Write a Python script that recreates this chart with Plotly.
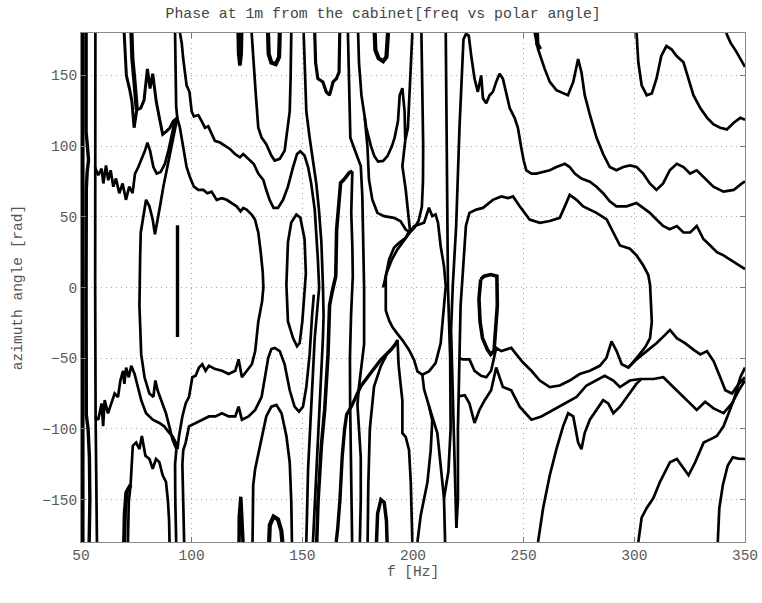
import plotly.graph_objects as go

# ---- contour curves: (frequency Hz, azimuth deg) ----
LB1 = [(50.8, 180), (50.8, -180)]
LB2 = [(52.3, 180), (52.3, 110), (52.9, 100), (53.4, 90), (52.8, 82), (52.4, 70), (52.3, 0),
       (52.4, -90), (53.2, -100), (53.8, -120), (54.0, -150), (53.7, -180)]
LB3 = [(56.5, 180), (56.4, 120), (56.3, 85), (56.4, 0), (56.6, -91), (56.9, -140), (57.2, -180)]

J = [(56.3, 85.2), (57.8, 79.4), (59.3, 84), (60.1, 73.6), (61.3, 86.3), (62.3, 75.9), (63.4, 82.9),
     (64.6, 71.3), (65.8, 77.1), (67.3, 66.7), (68.8, 73.6), (70.3, 62), (71.8, 71.3), (73.3, 66.7),
     (74.4, 80.6), (75.9, 85.2), (77.4, 91), (78.9, 96.8), (80.0, 102.5), (81.2, 96.8), (82.7, 85.2),
     (84.2, 80.6), (86.0, 81.7), (87.9, 87.5), (89.5, 96.8), (91.0, 108.3), (92.5, 118.7), (93.5, 119.9),
     (94.7, 113), (96.2, 99.1), (97.7, 85.2), (99.2, 78.2), (101.0, 71.3), (103.0, 69), (105.3, 69),
     (107.1, 66.7), (109.0, 67.8), (111.3, 62), (113.6, 63.2), (115.8, 62), (118.0, 59.7), (120.3, 57.4),
     (122.1, 53.9), (123.3, 56.3), (124.8, 55.1), (127.1, 51.6), (128.6, 48.1), (130.1, 38.9),
     (131.2, 25), (132.1, 11.1), (132.4, 0), (131.8, -10), (130.1, -24.2), (128.7, -45), (127.2, -54.3),
     (124.9, -58.9), (122.7, -63.5), (121.2, -50.8), (119.7, -58.9), (116.7, -61.2), (113.7, -58.9),
     (110.7, -57.7), (107.8, -55.4), (106.3, -58.9), (104.8, -54.3), (103.3, -56.6), (101.8, -62.4),
     (100.3, -63.5), (98.8, -77.4), (97.3, -82), (95.8, -91.2), (94.3, -105), (93.6, -114.3),
     (92.8, -109.7), (91.3, -105), (89.9, -102.8), (87.6, -98.2), (85.4, -95.8), (82.4, -93.5),
     (79.4, -89), (77.2, -79.7), (75.7, -70.4), (74.2, -61.2), (72.7, -55.4), (71.6, -63.5),
     (70.4, -56.6), (69.6, -68.1), (69.0, -58.9), (67.8, -65.8), (66.7, -77.4), (65.2, -75),
     (63.7, -82), (62.2, -89), (60.7, -79.7), (60.0, -98), (59.3, -82), (57.8, -93.5), (56.3, -91.2)]

ELL_L = [(93.5, 119.9), (92.9, 115.3), (91.7, 106), (90.2, 94.4), (88.7, 82.9), (87.2, 71.3),
         (85.7, 57.4), (84.5, 48.1), (83.4, 37.7), (82.4, 48.1), (80.9, 57.4), (79.4, 62), (77.9, 48.1),
         (77.0, 38.9), (76.7, 20.4), (76.5, 0), (76.4, -12.7), (76.8, -30), (77.2, -47.3), (78.7, -63.5),
         (80.9, -75), (82.7, -77.4), (83.6, -65.8), (84.6, -72.7), (86.1, -79.7), (88.4, -89),
         (89.9, -98.2), (91.3, -107.4), (93.1, -114.3)]
SEG = [(93.6, 44), (93.6, 20), (93.7, 0), (93.6, -20), (93.6, -35)]

Z1 = [(69.5, 180), (70.0, 165), (70.5, 150), (72.0, 140), (73.0, 131.5), (74.0, 113), (75.2, 125.7),
      (77.0, 126.9), (78.5, 132.6), (80.0, 154.6), (81.2, 140.7), (82.4, 151.2), (84.0, 131.5),
      (85.4, 120), (86.9, 108.3), (88.7, 110.6), (90.2, 113), (91.7, 117.6), (93.5, 119.9)]
Z2 = [(72.8, 180), (73.2, 162), (74.2, 145), (75.2, 125.7)]
TC = [(92.5, 180), (92.7, 150), (93.0, 128), (93.5, 119.9)]
TA = [(93.1, -114.3), (92.5, -125), (92.6, -150), (93.0, -180)]

X = [(94.7, 180), (95.5, 173), (96.2, 161.6), (97.0, 150), (97.7, 143), (99.0, 138.4), (100.0, 124.5),
     (101.0, 121), (103.0, 122), (104.5, 117.6), (106.0, 113), (107.5, 114), (109.0, 108.3),
     (110.5, 103.7), (112.8, 102.5), (115.0, 100.2), (117.3, 98), (119.6, 94.4), (121.8, 92.1),
     (123.3, 94.4), (125.6, 91), (128.0, 87.5), (130.1, 80.6), (132.4, 76), (133.5, 70), (135.2, 62),
     (137.0, 56.3), (139.0, 56.3), (141.3, 62), (143.5, 71.3), (145.8, 85.2), (147.6, 94.4),
     (149.1, 96.3), (151.0, 93.3), (152.6, 85.2), (154.0, 73.6), (155.6, 55.1), (156.3, 39),
     (157.0, 20.4), (157.6, 0), (156.6, -20), (155.6, -35.8), (154.1, -82), (152.6, -128.2), (151.8, -180)]
XM = [(96.6, -180), (96.2, -150), (95.8, -125), (96.2, -115), (97.3, -109.7), (98.8, -98.2),
      (101.8, -95.8), (104.8, -93.5), (107.8, -91.2), (110.7, -91.2), (113.7, -88.9), (116.7, -91.2),
      (119.7, -91.2), (121.2, -84.3), (122.7, -93.5), (125.7, -91.2), (128.7, -86.6), (131.6, -77.4),
      (133.1, -63.5), (134.6, -49.7), (136.0, -43.5), (137.5, -42.7), (139.8, -45), (142.0, -54.3),
      (144.3, -72.7), (146.5, -84.3), (148.5, -87.8), (150.3, -84.3), (151.8, -70.4), (153.3, -47.3),
      (154.4, -20), (155.2, -5)]

ZL = [(71.2, -180), (71.6, -151.3), (72.4, -139.7), (73.4, -112), (74.9, -109.7), (76.4, -114.3),
      (77.5, -105), (79.1, -119), (80.9, -121.2), (82.4, -128.2), (83.9, -121.2), (85.4, -123.5),
      (86.9, -132.8), (88.4, -137.4), (89.3, -151.3), (89.8, -165), (90.0, -180)]
ZL2 = [(69.5, -180), (69.8, -160), (70.5, -145), (72.4, -139.7)]

G_UP = [(127.1, 180), (127.9, 159), (129.0, 136), (130.1, 113), (131.6, 106), (133.7, 101.4),
        (136.0, 93.3), (137.5, 89.8), (139.8, 91), (142.0, 96.8), (143.5, 113), (144.3, 124.5),
        (144.7, 147.7), (145.0, 170.8), (145.0, 180)]
G_LO = [(127.5, -180), (127.6, -150), (127.8, -139.7), (128.7, -128.2), (130.9, -112), (133.7, -91.2),
        (136.0, -84.3), (138.3, -83.1), (140.6, -88.9), (142.8, -105), (144.3, -123.6), (145.0, -151.3),
        (145.3, -180)]

N1 = [(121.0, 180), (121.2, 165), (121.8, 157), (122.4, 165), (122.6, 180)]
N2 = [(121.4, -180), (121.5, -162), (122.2, -148), (122.8, -162), (123.2, -180)]
B1 = [(134.5, 180), (134.8, 165), (136.0, 159), (138.0, 158), (139.5, 163), (139.8, 180)]
B2 = [(135.0, -180), (135.3, -168), (137.0, -162), (139.0, -164), (140.5, -172), (141.0, -180)]
B3 = [(182.7, 180), (183.0, 168), (184.5, 162), (186.5, 160), (188.0, 163), (188.7, 180)]
B4 = [(183.5, -180), (184.0, -160), (185.5, -150), (187.0, -152), (188.0, -165), (188.3, -180)]

SMALL_ELL = [(142.8, 1.9), (143.5, 32), (145.0, 46), (147.3, 51.6), (149.1, 49.3), (151.0, 34.3),
             (151.6, 10), (150.6, -15), (150.0, -24), (148.8, -39.3), (147.6, -41.6), (145.8, -35.8),
             (143.5, -24), (142.8, 1.9)]

V2 = [(150.6, 180), (151.0, 159.3), (151.8, 124.5), (153.3, 106), (154.8, 89.8), (156.3, 73.6),
      (157.5, 55.1), (158.6, 32), (159.3, 1.9), (159.6, -20), (159.3, -35.8), (157.8, -82),
      (156.3, -128.2), (154.8, -180)]
T1 = [(155.6, 180), (156.0, 159), (157.0, 147.7), (159.3, 145.4), (160.8, 138.4), (162.3, 136),
      (163.9, 145.4), (165.4, 147.7), (166.6, 152.3), (166.9, 168.5), (166.9, 180)]

M1 = [(170.6, 180), (171.1, 136), (171.7, 106), (173.3, 99), (176.4, 86), (177.1, 65), (177.6, 29),
      (177.9, 0), (177.9, -40), (177.1, -50), (176.4, -60), (175.6, -70), (174.9, -83), (175.5, -100),
      (176.4, -120), (176.4, -150), (176.0, -180)]
M2A = [(156.5, -180), (157.1, -151.3), (158.6, -112), (160.1, -86.6), (161.6, -47.3), (162.3, -12.7),
       (163.5, -3), (165.1, 8), (165.5, 41), (166.6, 64.6), (167.3, 74), (168.8, 76.4), (171.1, 81.1),
       (172.6, 82.3)]
M2B = [(172.6, 82.3), (172.1, 52.8), (172.6, 29.2), (172.8, 8), (172.0, -20), (171.5, -50),
       (171.6, -83), (172.0, -120), (172.3, -150), (172.5, -180)]

UMA = [(175.2, 180), (175.6, 159), (176.7, 136), (178.9, 113), (181.0, 100), (182.5, 93), (184.2, 89),
       (186.5, 89.5), (188.5, 93), (190.5, 100), (191.7, 106), (193.2, 117.6), (194.0, 136),
       (195.2, 141), (196.2, 124.5), (196.5, 104), (197.7, 113), (198.5, 136), (199.2, 159), (199.7, 180)]
UMB = [(196.5, 104), (195.2, 85.8), (196.7, 69.3), (197.7, 52.8), (198.6, 41), (196.7, 35.1),
       (193.7, 31.6), (191.4, 28.1), (189.2, 19.8), (187.7, 8), (187.7, -16.3), (189.2, -23.3),
       (190.7, -27.9), (192.9, -32.6), (195.2, -37.2), (198.2, -44.2), (200.5, -51.2), (202.0, -59.3),
       (204.2, -61.6), (207.2, -59.3), (210.2, -53.5), (212.5, -39.5), (214.0, -16.3), (214.8, 1),
       (214.0, 15.1), (212.5, 29.2), (211.3, 45.8), (210.2, 51.7), (208.7, 50.5), (207.2, 56.4),
       (205.0, 45.8), (202.7, 44.6), (200.5, 43.4), (198.6, 39)]
UMC = [(178.2, 120), (179.4, 100), (180.1, 76.4), (181.6, 62.3), (183.9, 52.8), (186.9, 50.5),
       (191.4, 49.3), (194.4, 46.9), (196.7, 41), (198.6, 39)]
M4 = [(203.8, 180), (204.3, 136), (204.6, 100), (204.5, 75), (204.0, 57), (202.5, 47), (200.5, 42),
      (198.6, 39), (196.0, 33), (193.0, 27), (190.5, 20), (188.0, 10), (186.5, 0)]
M5 = [(214.8, 180), (215.1, 113), (215.4, 43.5), (215.8, 0), (216.8, -50), (217.0, -100),
      (216.0, -130), (214.0, -149), (214.5, -180)]
K1 = [(193.0, -37), (193.5, -55), (194.5, -70), (195.2, -80), (195.2, -103), (196.7, -105.6),
      (198.2, -114.9), (199.0, -138), (199.7, -180)]
K2 = [(204.2, -61.6), (205.0, -72), (207.2, -83.7), (208.7, -94), (208.0, -115), (206.5, -138),
      (203.5, -161), (202.0, -180)]
K3 = [(207.2, -83.7), (211.0, -103), (212.5, -126), (214.0, -149)]
D1 = [(165.3, -180), (166.0, -170), (167.0, -150), (168.0, -120), (169.1, -100), (170.0, -90),
      (172.3, -83.7), (176.4, -69.8), (180.9, -60.5), (185.4, -51.2), (189.9, -44.2), (192.9, -38.4)]
D2 = [(179.5, -180), (179.8, -140), (180.5, -100), (182.4, -70), (185.4, -55.8), (188.4, -46.5),
      (191.4, -41.9), (193.0, -37)]

S1 = [(219.6, -170), (218.8, -128), (218.0, -82), (217.2, -30), (218.0, 2), (219.5, 43.5), (221.0, 113),
      (222.2, 159), (222.8, 175.5), (224.0, 179.5), (225.2, 178), (226.3, 164), (227.8, 147.7),
      (229.3, 138.4), (230.8, 150), (231.6, 133.8), (233.1, 130.3), (234.6, 136), (236.1, 138.4),
      (237.6, 145.4), (239.1, 151.2), (240.6, 147.7), (242.1, 138.4), (243.7, 126.9), (245.9, 120),
      (247.4, 113), (248.9, 99), (250.0, 89.8), (251.2, 82.9), (253.5, 80.6), (255.7, 80.6),
      (258.8, 81.7), (261.8, 82.9), (264.8, 85.2), (268.6, 87.5), (270.8, 85.2), (273.1, 80.6),
      (276.1, 77.1), (279.9, 74.8), (282.9, 71.3), (285.9, 66.7), (288.9, 60.9), (291.9, 57.4),
      (296.5, 57.4), (301.0, 59.7), (304.0, 56.3), (307.0, 52.8), (310.0, 48.1), (313.0, 43.5),
      (316.0, 41.2), (319.2, 43.5), (322.2, 38.9), (325.2, 38.9), (328.2, 43.5), (331.2, 34.3),
      (334.3, 29.7), (337.3, 25), (340.3, 22.7), (344.9, 18.1), (350.0, 13)]
LC = [(219.6, -170), (220.3, -150), (220.3, -100), (220.8, -50), (221.5, -12.7), (222.5, 10.4),
      (223.9, 43.5), (225.5, 52.8), (228.6, 55.1), (231.6, 56.3), (236.1, 62), (239.9, 64.4),
      (242.9, 63.2), (245.2, 64.4), (248.2, 57.4), (252.7, 48.1), (257.3, 45.8), (261.8, 47),
      (266.3, 49.3), (268.6, 57.4), (270.8, 65.5), (273.9, 62), (276.9, 57.4), (282.9, 52.8),
      (287.5, 48.1), (290.5, 38.9), (293.5, 29.7), (298.0, 27.4), (301.0, 22.7), (304.0, 15.8),
      (306.3, 8.8), (307.1, 1.9), (307.6, -10), (307.9, -24.2), (307.1, -35.8), (305.0, -42),
      (302.0, -48), (299.0, -53), (297.3, -56.6)]
UL9 = [(220.8, -50), (222.5, -50.8), (225.5, -50.8), (227.8, -58.9), (230.8, -62.4), (233.1, -63.5),
       (235.3, -58.9), (237.6, -42.7), (239.9, -45), (242.1, -43.9), (244.4, -42.7), (246.7, -47.3),
       (249.7, -53.1), (253.5, -58.9), (257.3, -65.8), (261.8, -70.4), (266.3, -69.3), (270.8, -65.8),
       (275.3, -61.2), (279.9, -58.9), (284.4, -55.4), (287.4, -49.7), (289.7, -38.1), (292.0, -45),
       (294.3, -54.3), (297.3, -56.6), (301.0, -50.8), (305.6, -45), (310.1, -39.3), (313.9, -33.5),
       (316.1, -30), (319.2, -35.8), (322.9, -39.3), (326.7, -43.9), (329.8, -47.3), (332.8, -45),
       (335.8, -52), (338.8, -63.5), (341.1, -72.7), (344.1, -75), (347.2, -68.1), (350.0, -63.5)]
LL9 = [(220.5, -77), (223.4, -76.2), (225.5, -82), (227.8, -95.8), (230.0, -86.6), (232.4, -79.7),
       (235.3, -72.7), (237.6, -56.6), (240.6, -70.4), (244.4, -72.7), (248.2, -84.3), (253.5, -93.5),
       (258.0, -91.2), (263.3, -86.6), (268.6, -82), (273.9, -77.4), (278.4, -69.3), (282.9, -65.8),
       (286.6, -62.4), (290.5, -65.8), (293.5, -70.4), (298.0, -65.8), (302.6, -64.7), (308.6, -64.7),
       (313.1, -63.5), (316.9, -69.3), (320.7, -75), (325.2, -82), (328.2, -86.6), (332.0, -80.8),
       (335.8, -85.5), (340.3, -88.9), (344.1, -82), (347.2, -72.7), (350.0, -65.8)]
R1 = [(256.5, -180), (258.8, -155.9), (261.8, -132.8), (264.8, -114.3), (267.8, -98.2), (270.1, -89),
      (272.4, -91.2), (274.6, -109.7), (276.1, -114.3), (277.6, -102.8), (279.9, -93.5), (282.9, -86.6),
      (285.9, -79.7), (288.2, -82), (290.5, -88.9), (293.5, -84.3), (296.5, -77.4), (299.0, -72),
      (301.0, -68), (303.0, -65)]
R2 = [(301.8, -180), (303.3, -162.8), (305.6, -155.9), (308.6, -148.9), (311.6, -137.4), (316.1, -123.6),
      (319.2, -121.3), (322.2, -128.2), (324.5, -132.8), (327.5, -123.6), (331.3, -109.7),
      (334.3, -107.4), (337.3, -105), (340.3, -98.2), (342.6, -88.9), (344.9, -79.7), (347.9, -63.5),
      (350.0, -56.6)]
R3 = [(337.7, -180), (338.4, -155.9), (340.0, -139.7), (342.2, -125.9), (344.5, -120.1), (347.0, -121),
      (350.0, -121.3)]
SMALL_LOOP = [(230.6, 5.8), (232.1, 8), (235.1, 9.2), (237.9, 8), (238.1, -12.7), (237.3, -31.2),
              (236.6, -45), (235.1, -47.3), (233.6, -43.9), (231.4, -35.8), (230.3, -24.2),
              (229.8, -8), (230.6, 5.8)]
LA = [(255.0, 180), (256.5, 168.5), (259.5, 154.6), (261.8, 145.4), (264.8, 139.6), (267.8, 137.3),
      (270.0, 136), (272.4, 145.4), (274.6, 161.6), (276.1, 152.3), (277.6, 136), (279.9, 122.2),
      (282.9, 106), (285.9, 94.4), (288.9, 85.2), (291.9, 82.9), (295.0, 85.2), (298.0, 86.3),
      (301.0, 85.2), (304.0, 80.6), (307.0, 73.6), (310.0, 69), (313.0, 73.6), (316.0, 82.9),
      (319.2, 87.5), (322.2, 85.2), (325.2, 80.6), (328.2, 82.9), (331.2, 78.2), (335.7, 71.3),
      (340.3, 67.8), (344.9, 69), (348.6, 73.6), (350.0, 75)]
LA2 = [(256.0, 180), (256.2, 172), (257.5, 168.5)]
TOPR = [(301.0, 180), (301.8, 159.3), (303.3, 143), (305.6, 136), (307.9, 137.3), (310.0, 147.7),
        (312.2, 163.9), (314.5, 170.8), (316.8, 168.5), (319.0, 163.9), (322.2, 159.3), (324.5, 147.7),
        (326.7, 136), (329.8, 126.9), (332.9, 120), (335.8, 115.3), (338.8, 113), (341.8, 111.8),
        (344.9, 116.5), (347.9, 120), (350.0, 118.7)]
CORNER = [(341.5, 180), (343.5, 173), (346.0, 167), (348.0, 162), (350.0, 156)]

X_TICKS = [50, 100, 150, 200, 250, 300, 350]
Y_TICKS = [-150, -100, -50, 0, 50, 100, 150]
TITLE = "Phase at 1m from the cabinet[freq vs polar angle]"
XLABEL = "f [Hz]"
YLABEL = "azimuth angle [rad]"

# ---- styling ----
NORMAL = 2.7
HEAVY = 4.2
curves = [
    (LB1, 3.6), (LB2, 3.4), (LB3, NORMAL), (J, NORMAL), (ELL_L, NORMAL), (SEG, 3.4), (Z1, 3.0),
    (Z2, HEAVY), (TC, NORMAL), (TA, NORMAL), (X, NORMAL), (XM, NORMAL), (ZL, NORMAL), (ZL2, HEAVY),
    (G_UP, NORMAL), (G_LO, NORMAL), (N1, 3.5), (N2, 3.5), (B1, HEAVY), (B2, HEAVY), (B3, HEAVY),
    (B4, 3.5), (SMALL_ELL, NORMAL), (V2, NORMAL), (T1, 3.2), (M1, NORMAL), (M2A, 3.6), (M2B, NORMAL),
    (UMA, NORMAL), (UMB, NORMAL), (UMC, NORMAL), (M4, NORMAL), (M5, NORMAL), (K1, NORMAL),
    (K2, NORMAL), (K3, NORMAL), (D1, 3.4), (D2, NORMAL), (S1, NORMAL), (LC, NORMAL), (UL9, NORMAL),
    (LL9, NORMAL), (R1, NORMAL), (R2, NORMAL), (R3, NORMAL), (SMALL_LOOP, 3.6), (LA, NORMAL),
    (LA2, HEAVY), (TOPR, NORMAL), (CORNER, NORMAL),
]

fig = go.Figure()
for pts, w in curves:
    fig.add_trace(go.Scatter(
        x=[p[0] for p in pts], y=[p[1] for p in pts], mode="lines",
        line=dict(color="black", width=w, shape="linear"),
        hoverinfo="skip", showlegend=False))

FONT = "Liberation Mono, Courier New, monospace"
axis_common = dict(
    ticks="inside", ticklen=5, tickcolor="#777", showline=True, linecolor="#888", linewidth=1,
    mirror="ticks", showgrid=True, gridcolor="#a8a8a8", griddash="1px,4px", gridwidth=1,
    zeroline=False, automargin=False, tickfont=dict(family=FONT, size=14.5, color="#5a5a5a"),
)
fig.update_xaxes(range=[50, 350], tickvals=X_TICKS, **axis_common,
                 title=dict(text=XLABEL, font=dict(family=FONT, size=14.5, color="#555"), standoff=0))
fig.update_yaxes(range=[-180, 180], tickvals=Y_TICKS, **axis_common,
                 title=dict(text=YLABEL, font=dict(family=FONT, size=14.5, color="#555"), standoff=16))
fig.update_layout(
    width=762, height=603, margin=dict(l=81, r=17, t=33, b=61, autoexpand=False),
    paper_bgcolor="white", plot_bgcolor="white",
    title=dict(text=TITLE, font=dict(family=FONT, size=14.8, color="#444"),
               x=0.455, xref="paper", xanchor="center", y=1 - 13 / 603, yref="container",
               yanchor="middle", automargin=False),
)
fig.write_html("out.html")
